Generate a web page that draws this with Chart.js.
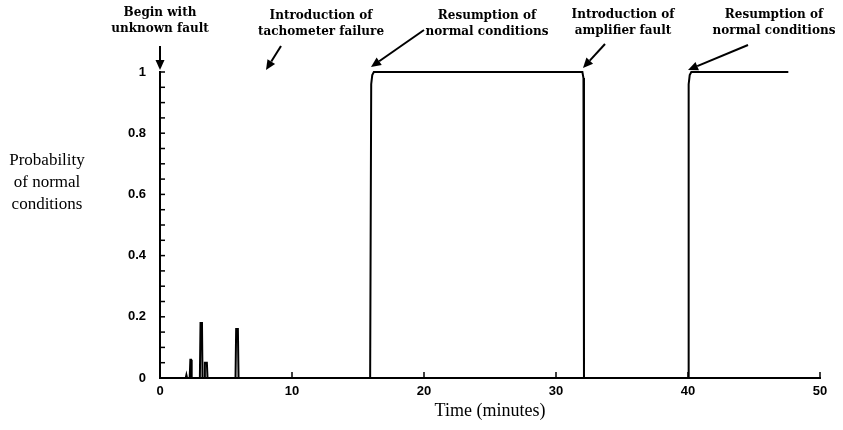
<!DOCTYPE html>
<html>
<head>
<meta charset="utf-8">
<script src="https://cdn.jsdelivr.net/npm/chart.js@4"></script>
<style>
html,body{margin:0;padding:0;background:#fff;}
#wrap{width:843px;height:430px;position:relative;}
</style>
</head>
<body>
<div id="wrap"><canvas id="c" width="843" height="430"></canvas></div>
<script>
// ---- data ----
const timeMinutes = [0, 1.95, 2.0, 2.05, 2.25, 2.3, 2.35, 2.4, 3.02, 3.07, 3.18, 3.22, 3.35, 3.4, 3.55, 3.6, 5.72, 5.77, 5.9, 5.95, 15.92, 16.0, 16.08, 16.2, 32.0, 32.08, 32.12, 40.0, 40.05, 40.13, 40.25, 47.6];
const probNormal  = [0,   0,    0.01, 0,   0,    0.06, 0.06, 0,  0,    0.18, 0.18, 0,    0,    0.05, 0.05, 0,   0,    0.16, 0.16, 0,    0,     0.96, 0.99, 1,    1,    0.98, 0,     0,    0.96, 0.99, 1,    1];
const xTicks = [0, 10, 20, 30, 40, 50];
const yTicks = [0, 0.2, 0.4, 0.6, 0.8, 1];
const annotationLines = [
  ["Begin with", "unknown fault"],
  ["Introduction of", "tachometer failure"],
  ["Resumption of", "normal conditions"],
  ["Introduction of", "amplifier fault"],
  ["Resumption of", "normal conditions"]
];
const yTitleLines = ["Probability", "of normal", "conditions"];
const xTitle = "Time (minutes)";

const points = timeMinutes.map((t, i) => ({x: t, y: probNormal[i]}));

// annotation placement (style only)
const annotLayout = [
  {cx: 160, y1: 13, y2: 29, from: [160, 46], to: [160, 70]},
  {cx: 321, y1: 16, y2: 32, from: [281, 46], to: [266, 70]},
  {cx: 487, y1: 16, y2: 32, from: [424, 30], to: [371, 67]},
  {cx: 623, y1: 15, y2: 31, from: [605, 44], to: [583, 68]},
  {cx: 774, y1: 15, y2: 31, from: [748, 45], to: [688, 70]}
];

function arrow(ctx, a, b) {
  const [x1, y1] = a, [x2, y2] = b;
  const ang = Math.atan2(y2 - y1, x2 - x1);
  const hl = 10, hw = 4.5;
  const bx = x2 - hl * Math.cos(ang), by = y2 - hl * Math.sin(ang);
  ctx.beginPath();
  ctx.moveTo(x1, y1);
  ctx.lineTo(bx, by);
  ctx.lineWidth = 2;
  ctx.strokeStyle = '#000';
  ctx.stroke();
  ctx.beginPath();
  ctx.moveTo(x2, y2);
  ctx.lineTo(bx + hw * Math.sin(ang), by - hw * Math.cos(ang));
  ctx.lineTo(bx - hw * Math.sin(ang), by + hw * Math.cos(ang));
  ctx.closePath();
  ctx.fillStyle = '#000';
  ctx.fill();
}

const decorPlugin = {
  id: 'decor',
  afterDraw(chart) {
    const ctx = chart.ctx;
    const xs = chart.scales.x, ys = chart.scales.y;
    ctx.save();
    // minor y ticks (inward)
    ctx.strokeStyle = '#000';
    ctx.lineWidth = 1.5;
    for (let v = 0.05; v < 1.001; v += 0.05) {
      const py = ys.getPixelForValue(v);
      ctx.beginPath();
      ctx.moveTo(xs.left, py);
      ctx.lineTo(xs.left + 5, py);
      ctx.stroke();
    }
    // x ticks (inward)
    xTicks.forEach(v => {
      if (v === 0) return;
      const px = xs.getPixelForValue(v);
      ctx.beginPath();
      ctx.moveTo(px, ys.bottom);
      ctx.lineTo(px, ys.bottom - 6);
      ctx.stroke();
    });
    // annotations
    ctx.fillStyle = '#000';
    ctx.textAlign = 'center';
    ctx.textBaseline = 'middle';
    ctx.font = 'bold 12px "DejaVu Serif"';
    annotationLines.forEach((lines, i) => {
      const L = annotLayout[i];
      ctx.fillText(lines[0], L.cx, L.y1);
      ctx.fillText(lines[1], L.cx, L.y2);
      arrow(ctx, L.from, L.to);
    });
    // y title (horizontal, multi-line)
    ctx.font = '17px "Liberation Serif"';
    ctx.textAlign = 'center';
    const ty = [161, 183, 205];
    yTitleLines.forEach((s, i) => ctx.fillText(s, 47, ty[i]));
    // x title
    ctx.font = '18px "Liberation Serif"';
    ctx.fillText(xTitle, 490, 411);
    ctx.restore();
  }
};

new Chart(document.getElementById('c'), {
  type: 'scatter',
  data: {
    datasets: [{
      data: points,
      showLine: true,
      borderColor: '#000',
      borderWidth: 2,
      pointRadius: 0,
      fill: false,
      tension: 0,
      clip: false
    }]
  },
  options: {
    responsive: false,
    animation: false,
    events: [],
    layout: {padding: {top: 72, right: 23, bottom: 0, left: 0}},
    plugins: {legend: {display: false}, tooltip: {enabled: false}},
    scales: {
      x: {
        type: 'linear',
        min: 0, max: 50,
        afterBuildTicks: s => { s.ticks = xTicks.map(v => ({value: v})); },
        afterFit: s => { s.height = 52; },
        grid: {display: false, drawTicks: false},
        border: {display: true, color: '#000', width: 2},
        ticks: {
          padding: 6,
          color: '#000',
          font: {family: '"Liberation Sans"', weight: 'bold', size: 13},
          callback: v => String(v),
          maxRotation: 0
        }
      },
      y: {
        type: 'linear',
        min: 0, max: 1,
        afterBuildTicks: s => { s.ticks = yTicks.map(v => ({value: v})); },
        afterFit: s => { s.width = 160; },
        grid: {display: false, drawTicks: false},
        border: {display: true, color: '#000', width: 2},
        ticks: {
          padding: 14,
          color: '#000',
          font: {family: '"Liberation Sans"', weight: 'bold', size: 13},
          callback: v => String(v)
        }
      }
    }
  },
  plugins: [decorPlugin]
});
</script>
</body>
</html>
